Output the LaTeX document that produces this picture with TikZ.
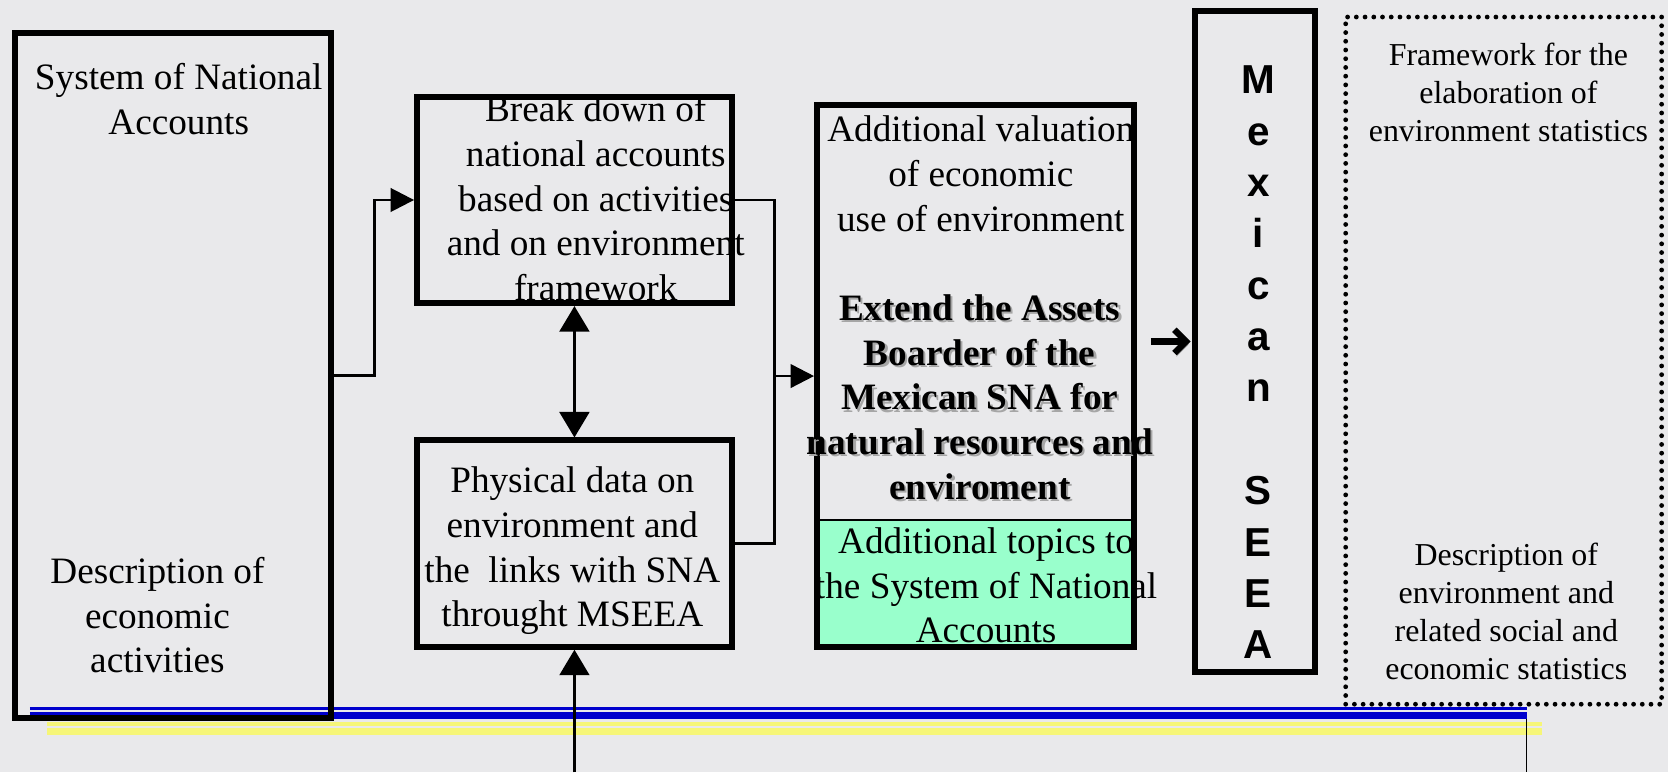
\documentclass[tikz,border=0pt]{standalone}
\usepackage{fontspec}
\setmainfont{Liberation Serif}
\newfontfamily\seeafont{Liberation Sans}
\usetikzlibrary{arrows.meta}
\definecolor{bgc}{RGB}{233,233,235}
\definecolor{greenfill}{RGB}{153,255,204}
\definecolor{bandblue}{RGB}{0,0,205}
\definecolor{bandyellow}{RGB}{246,246,120}
\tikzset{
  box/.style={draw=black, line width=5.5pt, inner sep=0pt},
  dotbox/.style={draw=black, line width=4.5pt, line cap=round, dash pattern=on 0pt off 8.2pt, inner sep=0pt},
  txt/.style={font=\fontsize{35}{42}\selectfont, align=center, inner sep=0pt},
  boldtxt/.style={font=\fontsize{35}{42}\selectfont\bfseries, align=center, inner sep=0pt},
  smalltxt/.style={font=\fontsize{30}{36}\selectfont, align=center, inner sep=0pt},
  seeatxt/.style={font=\fontsize{38}{48.3}\selectfont\seeafont\bfseries, align=center, inner sep=0pt},
  conn/.style={draw=black, line width=2.5pt},
  arrowed/.style={-{Triangle[length=22pt,width=22pt]}},
  dblarrow/.style={{Triangle[length=24pt,width=28pt]}-{Triangle[length=24pt,width=28pt]}},
  bigarrow/.style={-{Triangle[length=24pt,width=28pt]}},
  seeaarrow/.style={draw=black, line width=6pt, -{Straight Barb[length=11pt,width=22pt]},
    preaction={draw=black!40, transform canvas={shift={(2pt,-3pt)}}}}
}
\begin{document}
\begin{tikzpicture}[x=1pt,y=-1pt]
\useasboundingbox (0,0) rectangle (1568,726);
\fill[bgc] (0,0) rectangle (1568,726);

% decorative bands
\draw[bandblue, line width=2pt] (28,666) -- (1435,666);
\draw[bandblue, line width=6.5pt] (28,673) -- (1435,673);
\draw[bandyellow, line width=3pt] (44,680.5) -- (1450,680.5);
\draw[bandyellow, line width=7pt] (44,687.5) -- (1450,687.5);

% green part of middle box
\node[fill=greenfill, minimum width=298pt, minimum height=119pt, inner sep=0pt, outer sep=0pt] (green) at (917,548.5) {};

% boxes
\node[box, minimum width=297pt, minimum height=644pt] (sna) at (162.5,353) {};
\node[box, minimum width=296pt, minimum height=194pt] (brk) at (540,188) {};
\node[box, minimum width=296pt, minimum height=194pt] (phys) at (540,511) {};
\node[box, minimum width=298pt, minimum height=509pt] (mid) at (917,353.5) {};
\draw[line width=2pt] (green.north west) -- (green.north east);
\node[box, minimum width=113pt, minimum height=622pt] (seea) at (1179.5,321) {};
\node[dotbox, minimum width=297pt, minimum height=646pt] (frame) at (1413.5,339) {};

% texts
\node[txt] (snaT) at (168,97) {\strut System of National\\Accounts\strut};
\node[txt] (snaB) at (148,582) {\strut Description of\\economic\\activities\strut};
\node[txt] (brkT) at (560,190) {\strut Break down of\\national accounts\\based on activities\\and on environment\\framework\strut};
\node[txt] (physT) at (538,518) {\strut Physical data on\\environment and\\the\ \ links with SNA\\throught MSEEA\strut};
\node[txt] (midT) at (922,167) {\strut Additional valuation\\of economic\\use of environment\strut};
\node[boldtxt, text=black!35] (midBshadow) at (923,379) {\strut Extend the Assets\\Boarder of the\\Mexican SNA for\\natural resources and\\enviroment\strut};
\node[boldtxt] (midB) at (921,377) {\strut Extend the Assets\\Boarder of the\\Mexican SNA for\\natural resources and\\enviroment\strut};
\node[txt] (greenT) at (927,554) {\strut Additional topics to\\the System of National\\Accounts\strut};
\node[seeatxt] (seeaT) at (1183,344) {\strut M\\e\\x\\i\\c\\a\\n\\\strut\\S\\E\\E\\A\strut};
\node[smalltxt] (fwT) at (1418,90) {\strut Framework for the\\elaboration of\\environment statistics\strut};
\node[smalltxt] (descT) at (1416,578) {\strut Description of\\environment and\\related social and\\economic statistics\strut};

% connectors
\coordinate (j) at (728,353.5);
\coordinate (bot) at (540,726);
\coordinate (r1) at (1435,676);
\coordinate (r2) at (1435,726);
\draw[conn, arrowed] (sna.east) -- ++(38,0) |- (brk.west);
\draw[conn] (brk.east) -| (j) |- (phys.east);
\draw[conn, arrowed] (j) -- (mid.west);
\draw[conn, dblarrow] (brk.south) -- (phys.north);
\draw[conn, bigarrow] (bot) -- (phys.south);
\draw[line width=1.5pt] (r1) -- (r2);
\draw[seeaarrow, shorten <=13pt, shorten >=1pt] (mid.east |- seea.west) -- (seea.west);
\end{tikzpicture}
\end{document}
